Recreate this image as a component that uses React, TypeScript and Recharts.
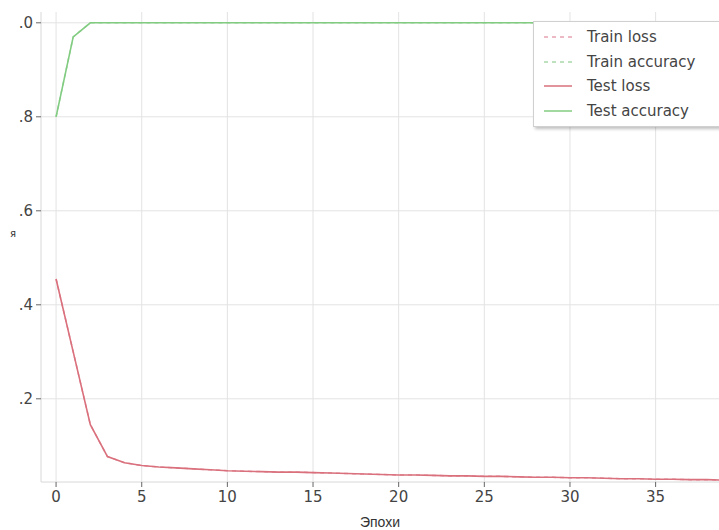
import { LineChart, Line, XAxis, YAxis, CartesianGrid } from "recharts"

const epochs = Array.from({ length: 40 }, (_, i) => i)

const testLoss = [
  0.455, 0.3, 0.145, 0.077, 0.064, 0.058, 0.055, 0.053, 0.051, 0.049,
  0.047, 0.046, 0.045, 0.044, 0.044, 0.043, 0.042, 0.041, 0.04, 0.039,
  0.038, 0.038, 0.037, 0.036, 0.036, 0.035, 0.035, 0.034, 0.033, 0.033,
  0.032, 0.032, 0.031, 0.03, 0.03, 0.029, 0.029, 0.028, 0.028, 0.027,
]

const testAcc = [
  0.8, 0.97, 1, 1, 1, 1, 1, 1, 1, 1,
  1, 1, 1, 1, 1, 1, 1, 1, 1, 1,
  1, 1, 1, 1, 1, 1, 1, 1, 1, 1,
  1, 1, 1, 1, 1, 1, 1, 1, 1, 1,
]

// train curves sit underneath the test ones in the picture
const trainLoss = testLoss
const trainAcc = testAcc

const xTicks = [0, 5, 10, 15, 20, 25, 30, 35]
const yTicks = [0.2, 0.4, 0.6, 0.8, 1.0]
const yTickLabels: Record<string, string> = { "0.2": ".2", "0.4": ".4", "0.6": ".6", "0.8": ".8", "1": ".0" }

const data = epochs.map((e, i) => ({
  epoch: e,
  trainLoss: trainLoss[i],
  trainAcc: trainAcc[i],
  testLoss: testLoss[i],
  testAcc: testAcc[i],
}))

const legendItems = [
  { name: "Train loss", color: "#e7a3b2", dash: "4 4" },
  { name: "Train accuracy", color: "#a9d9a9", dash: "4 4" },
  { name: "Test loss", color: "#d9707c", dash: "" },
  { name: "Test accuracy", color: "#82cc82", dash: "" },
]

const font = "'DejaVu Sans', sans-serif"

function LegendBox() {
  return (
    <div
      style={{
        position: "absolute",
        left: 533,
        top: 21,
        background: "#fff",
        border: "1px solid #d0d0d0",
        boxShadow: "2px 2px 3px rgba(0,0,0,0.25)",
        width: 200,
        height: 106,
        paddingTop: 3,
        boxSizing: "border-box",
        fontFamily: font,
        fontSize: 15,
        color: "#444",
      }}
    >
      {legendItems.map((it) => (
        <div key={it.name} style={{ display: "flex", alignItems: "center", height: 24.5 }}>
          <svg width={40} height={10} style={{ marginLeft: 8 }}>
            <line x1={2} y1={5} x2={30} y2={5} stroke={it.color} strokeWidth={1.5} strokeDasharray={it.dash} />
          </svg>
          <span style={{ marginLeft: 5 }}>{it.name}</span>
        </div>
      ))}
    </div>
  )
}

export default function App() {
  return (
    <div style={{ position: "absolute", left: 0, top: 0, width: 719, height: 530, overflow: "hidden", background: "#fff" }}>
      <LineChart width={719} height={530} data={data} margin={{ top: 12, right: 0, left: 0, bottom: 0 }}>
        <CartesianGrid stroke="#e3e3e3" strokeWidth={1} horizontalValues={yTicks} verticalValues={xTicks} />
        <XAxis
          dataKey="epoch"
          type="number"
          domain={[-0.88, 38.7]}
          allowDataOverflow
          ticks={xTicks}
          height={48}
          stroke="#d8d8d8"
          tickSize={5}
          tickMargin={4}
          tick={{ fill: "#444", fontSize: 15, fontFamily: font }}
          tickLine={{ stroke: "#666" }}
          label={{ value: "Эпохи", position: "insideBottom", offset: 3, fill: "#333", fontSize: 14, fontFamily: "'Liberation Sans', sans-serif" }}
        />
        <YAxis
          type="number"
          domain={[0.023, 1.023]}
          allowDataOverflow
          ticks={yTicks}
          width={41}
          stroke="#d8d8d8"
          tickSize={5}
          tickMargin={3}
          tickFormatter={(v) => yTickLabels[String(v)] ?? ""}
          tick={{ fill: "#444", fontSize: 15, fontFamily: font }}
          tickLine={{ stroke: "#666" }}
          label={{ value: "я", position: "insideLeft", offset: 10, dy: -14, fill: "#333", fontSize: 10, fontFamily: font }}
        />
        <Line dataKey="trainLoss" name="Train loss" stroke="#e7a3b2" strokeDasharray="4 4" strokeWidth={1.5} dot={false} isAnimationActive={false} />
        <Line dataKey="trainAcc" name="Train accuracy" stroke="#a9d9a9" strokeDasharray="4 4" strokeWidth={1.5} dot={false} isAnimationActive={false} />
        <Line dataKey="testLoss" name="Test loss" stroke="#d9707c" strokeWidth={1.6} dot={false} isAnimationActive={false} />
        <Line dataKey="testAcc" name="Test accuracy" stroke="#82cc82" strokeWidth={1.6} dot={false} isAnimationActive={false} />
      </LineChart>
      <LegendBox />
    </div>
  )
}
